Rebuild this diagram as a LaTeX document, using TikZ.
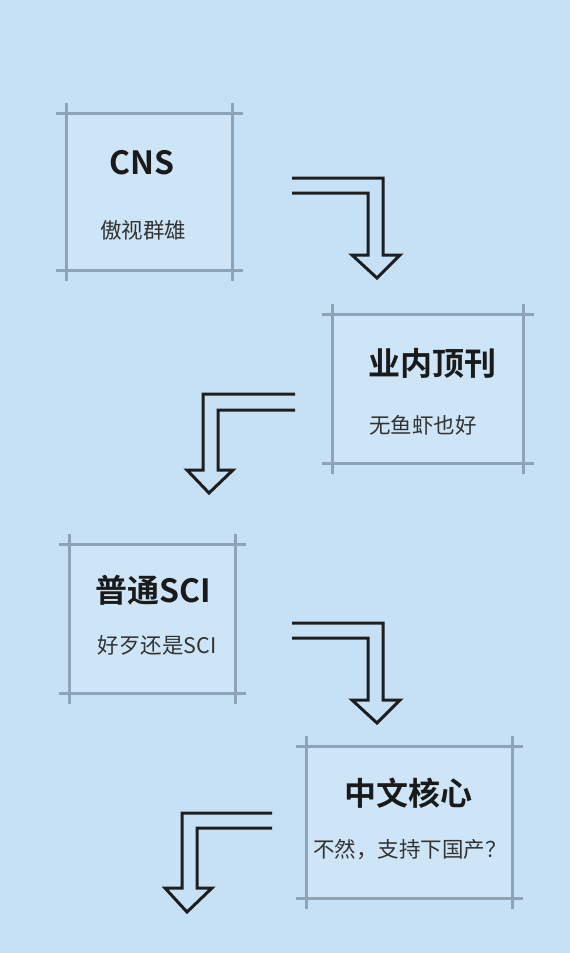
\documentclass[tikz,border=0pt]{standalone}
\usepackage{fontspec}
\setmainfont{Noto Sans CJK SC}
\newfontfamily\cjkbold{Noto Sans CJK SC Bold}
\definecolor{bgblue}{HTML}{C6E1F6}
\definecolor{boxfill}{HTML}{CDE5F7}
\definecolor{boxline}{HTML}{8EA3B6}
\definecolor{arrowcol}{HTML}{1E1E1E}
\definecolor{titlecol}{HTML}{1A1A1A}
\definecolor{subcol}{HTML}{333333}
\tikzset{
  cardbox/.style={rectangle, inner sep=0pt, fill=boxfill},
  cardline/.style={draw=boxline, line width=2.8pt, shorten <=-11pt, shorten >=-11pt},
  titletext/.style={font=\cjkbold\fontsize{32}{34}\selectfont, text=titlecol, inner sep=0pt},
  subtext/.style={font=\fontsize{21.5}{23}\selectfont, text=subcol, inner sep=0pt},
  bendarrow/.style={draw=arrowcol, line width=3pt, line join=miter, fill=none},
}
\begin{document}
\begin{tikzpicture}[x=1pt,y=-1pt]
\fill[bgblue] (0,0) rectangle (570,953);
\useasboundingbox (0,0) rectangle (570,953);

% boxes
\node[cardbox, minimum width=165pt, minimum height=156pt] (b1) at (149.5,192) {};
\node[cardbox, minimum width=190pt, minimum height=148pt] (b2) at (428,389) {};
\node[cardbox, minimum width=165pt, minimum height=148pt] (b3) at (152.5,619) {};
\node[cardbox, minimum width=205pt, minimum height=151pt] (b4) at (409.5,822.5) {};

\foreach \b in {b1,b2,b3,b4}{
  \draw[cardline] (\b.north west) -- (\b.north east);
  \draw[cardline] (\b.south west) -- (\b.south east);
  \draw[cardline] (\b.north west) -- (\b.south west);
  \draw[cardline] (\b.north east) -- (\b.south east);
}

% texts
\node[titletext] (t1) at (142,163) {CNS};
\node[subtext] (s1) at (143,230) {傲视群雄};
\node[titletext] (t2) at (432,363) {业内顶刊};
\node[subtext] (s2) at (423,425) {无鱼虾也好};
\node[titletext] (t3) at (153,590) {普通SCI};
\node[subtext] (s3) at (157,645) {好歹还是SCI};
\node[titletext] (t4) at (408,793) {中文核心};
\node[subtext] (s4) at (410,850) {不然，支持下国产？};

% arrows
\coordinate (a1) at (292,178);
\draw[bendarrow] (a1) -- ++(91,0) -- ++(0,77) -- ++(17,0) -- ++(-23,23) -- ++(-25,-23) -- ++(16,0) -- ++(0,-62) -- ++(-76,0);
\coordinate (a2) at (295,394);
\draw[bendarrow] (a2) -- ++(-92,0) -- ++(0,76) -- ++(-16,0) -- ++(22,23) -- ++(24,-23) -- ++(-15,0) -- ++(0,-60) -- ++(77,0);
\coordinate (a3) at (292,623);
\draw[bendarrow] (a3) -- ++(91,0) -- ++(0,77) -- ++(17,0) -- ++(-23,23) -- ++(-25,-23) -- ++(16,0) -- ++(0,-62) -- ++(-76,0);
\coordinate (a4) at (272,813);
\draw[bendarrow] (a4) -- ++(-90,0) -- ++(0,75) -- ++(-17,0) -- ++(22,24) -- ++(25,-24) -- ++(-15,0) -- ++(0,-60) -- ++(75,0);
\end{tikzpicture}
\end{document}
